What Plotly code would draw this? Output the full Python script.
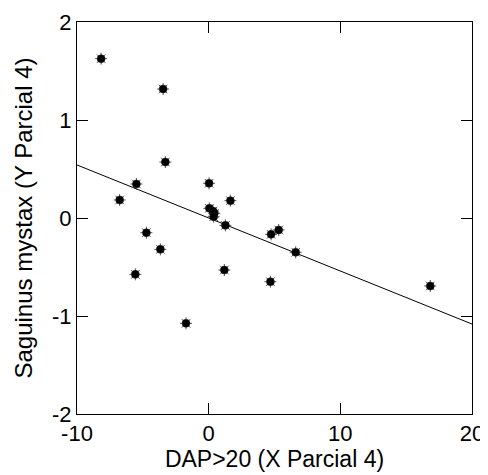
import plotly.graph_objects as go

# Partial regression data
x_partial = [-8.17, -3.46, -3.29, -5.49, -6.76, -4.73, -3.67, 0.03, 0.05, 0.33,
             0.43, 0.38, 1.65, 1.27, 4.74, 5.32, 6.61, -5.57, 1.19, 4.69,
             -1.72, 16.83]
y_partial = [1.626, 1.316, 0.571, 0.347, 0.184, -0.150, -0.320, 0.354, 0.099, 0.071,
             0.048, 0.013, 0.177, -0.075, -0.167, -0.122, -0.350, -0.575, -0.531, -0.650,
             -1.075, -0.694]

# Fitted line endpoints
fit_x = [-10, 20]
fit_y = [0.541, -1.082]

x_ticks = [-10, 0, 10, 20]
y_ticks = [-2, -1, 0, 1, 2]

FONT = "Arial, Liberation Sans, sans-serif"

fig = go.Figure()
fig.add_trace(go.Scatter(x=fit_x, y=fit_y, mode="lines",
                         line=dict(color="black", width=1), showlegend=False,
                         hoverinfo="skip"))
fig.add_trace(go.Scatter(x=x_partial, y=y_partial, mode="markers",
                         marker=dict(symbol="asterisk-open", size=10, color="#555555",
                                     line=dict(color="#555555", width=1)),
                         showlegend=False, hoverinfo="skip"))
fig.add_trace(go.Scatter(x=x_partial, y=y_partial, mode="markers",
                         marker=dict(symbol="circle", size=8, color="black",
                                     line=dict(color="#222222", width=0.5)),
                         showlegend=False))

axis_common = dict(showgrid=False, zeroline=False, showline=True, linecolor="black",
                   linewidth=1, mirror="ticks", ticks="inside", ticklen=11,
                   tickwidth=1, tickcolor="black",
                   tickfont=dict(family=FONT, size=22, color="black"))

fig.update_xaxes(range=[-10, 20], tickvals=x_ticks, ticktext=[str(v) for v in x_ticks],
                 title=dict(text="DAP>20 (X Parcial 4)", standoff=5,
                            font=dict(family=FONT, size=23, color="black")),
                 **axis_common)
fig.update_yaxes(range=[-2, 2], tickvals=y_ticks, ticktext=[str(v) for v in y_ticks],
                 title=dict(text="Saguinus mystax (Y Parcial 4)", standoff=12,
                            font=dict(family=FONT, size=24, color="black")),
                 **axis_common)

fig.update_layout(width=480, height=467, plot_bgcolor="white", paper_bgcolor="white",
                  margin=dict(l=69, r=16, t=14, b=61, autoexpand=False),
                  font=dict(family=FONT, color="black"))

fig.write_html("out.html")
